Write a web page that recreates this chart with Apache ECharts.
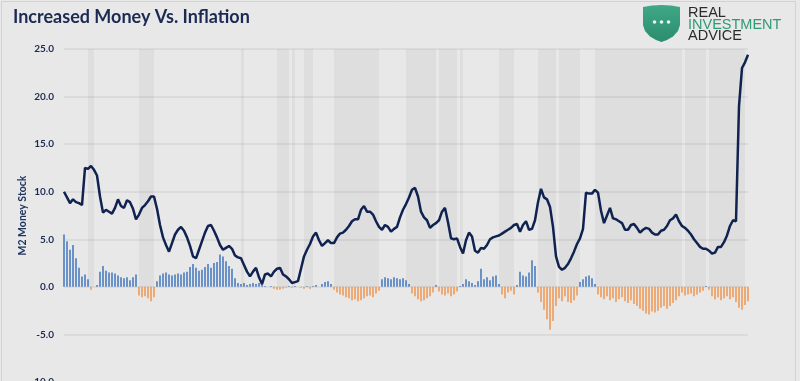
<!DOCTYPE html>
<html>
<head>
<meta charset="utf-8">
<script src="https://cdn.jsdelivr.net/npm/echarts@6/dist/echarts.min.js"></script>
<style>
html,body{margin:0;padding:0;background:#e8e8e8;}
#chart{width:800px;height:381px;}
</style>
</head>
<body>
<div id="chart"></div>
<script>
// ---- data ----
const startYear = 1964;
const categories = [];
for (let i = 0; i < 229; i++) {
  categories.push((startYear + Math.floor(i / 4)) + ' Q' + (i % 4 + 1));
}

const m2Growth = [
  10.0, 9.4, 8.8, 9.2, 8.9, 8.8, 8.6, 12.5, 12.4, 12.7,
  12.3, 11.7, 9.5, 7.8, 8.1, 7.9, 7.7, 8.3, 9.2, 8.5,
  8.3, 9.1, 8.9, 8.2, 7.1, 7.6, 8.3, 8.6, 9.0, 9.5,
  9.5, 8.2, 6.5, 5.2, 4.4, 3.7, 4.6, 5.5, 6.0, 6.3,
  5.9, 5.2, 4.3, 3.2, 3.0, 3.9, 4.8, 5.7, 6.4, 6.5,
  5.9, 5.2, 4.4, 3.9, 4.1, 4.3, 4.0, 3.3, 3.1, 3.0,
  2.3, 1.6, 1.1, 1.6, 2.0, 1.0, 0.3, 1.3, 1.4, 1.1,
  1.6, 1.9, 2.0, 1.3, 1.1, 0.8, 0.4, 0.5, 0.6, 1.9,
  3.2, 3.9, 4.5, 5.3, 5.7, 4.9, 4.3, 4.6, 4.9, 4.6,
  4.6, 5.2, 5.6, 5.7, 6.0, 6.4, 6.9, 7.1, 7.1, 8.1,
  8.5, 7.9, 7.9, 7.6, 6.9, 6.3, 6.0, 6.5, 6.3, 5.8,
  6.1, 6.3, 7.3, 8.1, 8.7, 9.4, 10.2, 10.4, 9.5, 7.9,
  7.3, 7.0, 6.2, 6.5, 6.7, 7.0, 7.9, 8.3, 6.8, 5.1,
  5.0, 5.1, 4.2, 3.5, 4.9, 5.7, 5.3, 3.8, 3.6, 4.1,
  4.0, 4.4, 5.0, 5.2, 5.3, 5.4, 5.6, 5.8, 6.0, 6.2,
  6.5, 6.6, 5.8, 6.5, 6.9, 6.0, 6.1, 7.0, 8.9, 10.3,
  9.4, 9.2, 8.4, 6.3, 3.2, 2.1, 1.8, 2.0, 2.4, 3.0,
  3.7, 4.5, 5.1, 6.1, 9.9, 9.8, 9.8, 10.2, 9.9, 8.0,
  6.7, 7.5, 8.3, 7.2, 7.1, 6.9, 6.7, 6.0, 6.0, 6.5,
  6.6, 6.2, 5.7, 6.0, 6.2, 6.1, 5.7, 5.5, 5.5, 5.9,
  6.0, 6.4, 7.0, 7.2, 7.6, 6.9, 6.4, 6.2, 5.9, 5.5,
  5.0, 4.6, 4.2, 4.0, 4.0, 3.8, 3.5, 3.6, 4.2, 4.2,
  4.7, 5.4, 6.4, 7.0, 6.9, 19.0, 23.0, 23.6, 24.4
];

const spreadValues = [
  5.5, 4.8, 3.9, 4.4, 3.0, 2.0, 1.1, 1.3, 0.8, -0.3,
  0, 0.2, 1.6, 2.2, 1.7, 1.5, 1.5, 1.4, 1.2, 1.0,
  0.9, 1.0, 0.7, 1.0, 1.3, -0.9, -1.1, -1.0, -1.2, -1.5,
  -1.1, 0.6, 1.2, 1.4, 1.5, 1.3, 1.2, 1.3, 1.4, 1.3,
  1.5, 1.6, 2.1, 2.4, 2.0, 1.7, 1.8, 2.1, 2.4, 2.0,
  2.5, 2.6, 3.4, 3.2, 2.7, 2.2, 1.9, 0.9, 0.4, 0.3,
  0.4, 0.2, 0.3, 0.4, 0.3, 0.4, 0.3, 0.1, 0, 0.1,
  -0.2, -0.3, -0.3, -0.2, -0.1, 0.1, -0.1, 0.1, 0, -0.1,
  -0.2, 0.1, -0.2, 0.1, 0.2, 0, 0.3, 0.5, 0.6, 0.3,
  -0.3, -0.6, -0.8, -0.9, -1.1, -1.2, -1.4, -1.3, -1.5, -1.4,
  -1.2, -1.0, -0.9, -1.1, -0.7, -0.4, 0.8, 1.0, 0.9, 0.8,
  1.0, 0.9, 0.8, 0.9, 0.7, 0.3, -0.7, -1.0, -1.3, -1.5,
  -1.4, -1.2, -1.0, -0.6, 0.2, -0.5, -0.8, -0.9, -0.7, -1.0,
  -0.8, -0.5, 0.1, 0.3, 0.8, 0.6, 0.4, 0.2, 0.6, 1.9,
  0.8, 1.0, 0.7, 1.1, 1.2, 0.3, -0.8, -1.2, -0.6, -0.4,
  -0.8, 0.2, 1.6, 1.2, 1.1, 1.5, 2.8, 2.2, -0.6, -1.6,
  -2.4, -3.4, -4.5, -3.6, -2.0, -1.2, -1.5, -1.0, -1.6, -1.7,
  -1.4, -0.9, 0.5, 0.8, 1.1, 1.2, 0.9, 0.3, -0.8, -1.1,
  -1.3, -1.0, -1.4, -1.2, -1.6, -1.3, -1.1, -1.5, -1.7, -1.4,
  -1.8, -2.0, -2.3, -2.5, -2.8, -2.9, -2.6, -2.7, -2.5, -2.2,
  -2.0, -2.3, -2.0, -1.7, -1.4, -1.0, -0.6, -0.9, -0.8, -0.7,
  -1.0, -0.8, -0.6, -0.4, 0.1, -0.3, -1.0, -1.3, -1.1, -1.4,
  -1.2, -1.0, -1.3, -1.1, -1.6, -2.2, -2.4, -1.9, -1.5
];

const shadedPeriods = [
  ['1966 Q1', '1966 Q3'], ['1970 Q2', '1971 Q3'], ['1978 Q4', '1979 Q1'],
  ['1981 Q4', '1982 Q4'], ['1983 Q1', '1983 Q2'], ['1984 Q1', '1984 Q4'],
  ['1986 Q3', '1990 Q2'], ['1992 Q3', '1995 Q1'], ['1995 Q2', '1996 Q4'],
  ['1997 Q1', '1997 Q2'], ['2000 Q2', '2001 Q3'], ['2003 Q3', '2005 Q1'],
  ['2005 Q2', '2007 Q1'], ['2008 Q2', '2015 Q3'], ['2015 Q4', '2017 Q3'],
  ['2017 Q4', '2020 Q4']
];

const yTicks = { min: -10, max: 25, step: 5 };
const titleText = 'Increased Money Vs. Inflation';
const yAxisTitle = 'M2 Money Stock';
const logoLines = ['REAL', 'INVESTMENT', 'ADVICE'];

// ---- chart ----
const chart = echarts.init(document.getElementById('chart'), null, { renderer: 'canvas' });

const teal = '#2f9a78';

chart.setOption({
  animation: false,
  backgroundColor: '#e8e8e8',
  grid: { left: 64, right: 52, top: 49, height: 333, containLabel: false, outerBoundsMode: 'none' },
  xAxis: {
    type: 'category',
    data: categories,
    boundaryGap: false,
    show: false
  },
  yAxis: {
    type: 'value',
    min: yTicks.min, max: yTicks.max, interval: yTicks.step,
    name: yAxisTitle,
    nameLocation: 'middle',
    nameGap: 36,
    nameMoveOverlap: false,
    nameRotate: 90,
    nameTextStyle: { color: '#1f3561', fontSize: 10.5, fontWeight: 'bold', fontFamily: 'Lato' },
    axisLine: { show: false },
    axisTick: { show: false },
    axisLabel: {
      margin: 10, color: '#1c2b4f', fontSize: 10, fontWeight: 'bold', fontFamily: 'Lato',
      formatter: v => v.toFixed(1)
    },
    splitLine: { lineStyle: { color: '#d7d7d7', width: 1.5 } }
  },
  graphic: [
    { type: 'rect', silent: true, z: 100,
      shape: { x: 1.5, y: 1.5, width: 794, height: 392 },
      style: { fill: 'none', stroke: '#d2d2d2', lineWidth: 1 } },
    { type: 'text', x: 13, y: 17, z: 100,
      style: { text: titleText, fill: '#1b2a52', font: 'bold 18px Lato', verticalAlign: 'middle' } },
    { type: 'polygon', z: 100,
      shape: { points: [[643,7],[652,5.6],[661.5,5],[671,5.6],[680,7],[680,25],[678,31],[673,36.5],[667,40],[661.5,42],[656,40],[650,36.5],[645,31],[643,25]] },
      style: { fill: new echarts.graphic.LinearGradient(0, 0, 0, 1, [
        { offset: 0, color: '#3fa887' }, { offset: 1, color: '#2b8d6d' }]) } },
    { type: 'circle', z: 101, shape: { cx: 654.5, cy: 22, r: 1.8 }, style: { fill: '#e8f5f0' } },
    { type: 'circle', z: 101, shape: { cx: 661.5, cy: 22, r: 1.8 }, style: { fill: '#e8f5f0' } },
    { type: 'circle', z: 101, shape: { cx: 668.5, cy: 22, r: 1.8 }, style: { fill: '#e8f5f0' } },
    { type: 'text', x: 688, y: 13, z: 100,
      style: { text: logoLines[0], fill: '#2b2b2b', font: '14.5px "Liberation Sans"', verticalAlign: 'middle' } },
    { type: 'text', x: 688, y: 25, z: 100,
      style: { text: logoLines[1], fill: teal, font: '14.5px "Liberation Sans"', verticalAlign: 'middle' } },
    { type: 'text', x: 688, y: 36, z: 100,
      style: { text: logoLines[2], fill: '#2b2b2b', font: '14.5px "Liberation Sans"', verticalAlign: 'middle' } }
  ],
  series: [
    {
      name: 'Shading',
      type: 'custom',
      z: 1,
      silent: true,
      encode: { x: [0, 1], y: -1 },
      data: shadedPeriods.map(p => [categories.indexOf(p[0]), categories.indexOf(p[1])]),
      renderItem: (params, api) => {
        const topLeft = api.coord([api.value(0), yTicks.max]);
        const bottomRight = api.coord([api.value(1), 0]);
        return {
          type: 'rect',
          shape: {
            x: topLeft[0], y: topLeft[1],
            width: bottomRight[0] - topLeft[0],
            height: bottomRight[1] - topLeft[1]
          },
          style: { fill: 'rgba(0,0,0,0.045)' }
        };
      }
    },
    {
      name: 'Spread',
      type: 'bar',
      data: spreadValues,
      barWidth: 1.6,
      z: 2,
      itemStyle: {
        color: p => (p.value >= 0 ? '#4a7cc0' : '#ee9a58')
      }
    },
    {
      name: 'M2 Money Stock',
      type: 'line',
      data: m2Growth,
      symbol: 'none',
      lineStyle: { color: '#0f2250', width: 2.5 },
      z: 5
    }
  ]
});
</script>
</body>
</html>
